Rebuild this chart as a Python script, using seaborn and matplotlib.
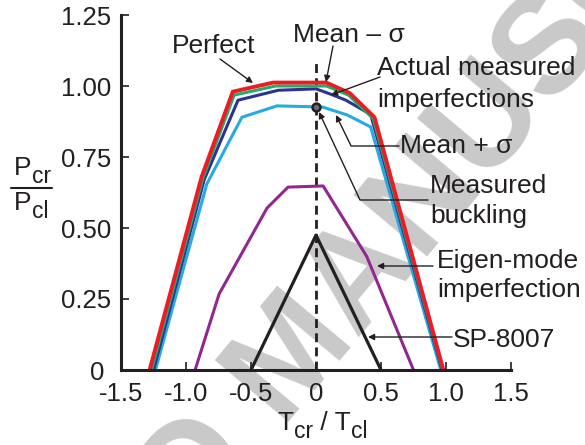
import matplotlib
matplotlib.use("Agg")
import matplotlib.pyplot as plt
import seaborn as sns
import pandas as pd
from matplotlib.lines import Line2D

sns.set_theme(style="ticks")
plt.rcParams['font.family'] = ['Liberation Sans', 'DejaVu Sans']

INK = '#231f20'

# ---- data ----
perfect_x = [-1.28, -0.88, -0.64, -0.33, 0.08, 0.26, 0.45, 0.98]
perfect_y = [0.0, 0.68, 0.98, 1.012, 1.012, 0.975, 0.89, 0.0]

mean_minus_x = [-1.265, -0.87, -0.63, -0.31, 0.08, 0.25, 0.44, 0.975]
mean_minus_y = [0.0, 0.675, 0.968, 1.0, 1.0, 0.968, 0.885, 0.0]

actual_x = [-1.25, -0.86, -0.60, -0.29, 0.0, 0.12, 0.23, 0.42, 0.97]
actual_y = [0.0, 0.67, 0.95, 0.985, 0.99, 0.97, 0.95, 0.90, 0.0]

mean_plus_x = [-1.235, -0.84, -0.57, -0.30, 0.05, 0.24, 0.42, 0.96]
mean_plus_y = [0.0, 0.655, 0.89, 0.93, 0.926, 0.898, 0.856, 0.0]

eigen_x = [-0.93, -0.745, -0.377, -0.215, 0.055, 0.39, 0.75]
eigen_y = [0.0, 0.268, 0.57, 0.644, 0.648, 0.40, 0.0]

sp8007_x = [-0.5, 0.0, 0.5]
sp8007_y = [0.0, 0.475, 0.0]

measured_x = [0.0]
measured_y = [0.926]

mean_line_x = [0.0, 0.0]
mean_line_y = [0.0, 1.09]

xticks = [-1.5, -1.0, -0.5, 0.0, 0.5, 1.0, 1.5]
xtick_labels = ['-1.5', '-1.0', '-0.5', '0', '0.5', '1.0', '1.5']
yticks = [0.0, 0.25, 0.5, 0.75, 1.0, 1.25]
ytick_labels = ['0 ', '0.25', '0.50', '0.75', '1.00', '1.25']

# ---- figure ----
fig = plt.figure(figsize=(5.85, 4.45), dpi=100)
ax = fig.add_axes([121/585, 1-370/445, 390/585, 355/445])
ax.patch.set_alpha(0)

curves = [
    (eigen_x, eigen_y, '#92278f', 2.2),
    (sp8007_x, sp8007_y, INK, 2.3),
    (mean_plus_x, mean_plus_y, '#27aae1', 2.2),
    (actual_x, actual_y, '#2e3192', 2.2),
    (mean_minus_x, mean_minus_y, '#1fae6a', 2.2),
    (perfect_x, perfect_y, '#ed1c24', 2.8),
]
for xs, ys, c, lw in curves:
    sns.lineplot(x=xs, y=ys, sort=False, estimator=None, color=c, lw=lw,
                 ax=ax, zorder=3)

sns.lineplot(x=mean_line_x, y=mean_line_y, sort=False, estimator=None,
             color=INK, lw=2.0, ax=ax, zorder=2, linestyle=(0, (3.2, 1.9)))

sns.scatterplot(x=measured_x, y=measured_y, s=32, color='#6d6e71',
                edgecolor=INK, linewidth=1.8, ax=ax, zorder=5)

ax.set_xlim(-1.5, 1.5)
ax.set_ylim(0, 1.25)
ax.set_xticks(xticks)
ax.set_xticklabels(xtick_labels)
ax.set_yticks(yticks)
ax.set_yticklabels(ytick_labels)
ax.tick_params(direction='in', length=6, width=1.2, labelsize=18.5, pad=7,
               colors=INK)
ax.tick_params(axis='x', pad=8.5)
sns.despine(ax=ax)
for s in ['left', 'bottom']:
    ax.spines[s].set_linewidth(2.2)
    ax.spines[s].set_color(INK)
    ax.spines[s].set_zorder(4)

# pixel helpers
def dx(px):
    return (px - 316) / 130.0

def dy(py):
    return (370 - py) / 284.0

FS = 19
def label(px, py, s):
    ax.text(dx(px), dy(py), s, fontsize=FS, ha='left', va='baseline',
            color=INK, clip_on=False)

label(172, 53, 'Perfect')
label(293, 42, 'Mean \u2013 \u03c3')
label(377, 75, 'Actual measured')
label(377, 107, 'imperfections')
label(400, 153, 'Mean + \u03c3')
label(430, 193, 'Measured')
label(430, 223, 'buckling')
label(437, 268, 'Eigen-mode')
label(437, 297, 'imperfection')
label(453, 347, 'SP-8007')

ap = dict(arrowstyle='-|>', color=INK, lw=1.0, mutation_scale=9,
          shrinkA=0, shrinkB=0)

def arrow(p0, p1, conn=None):
    props = dict(ap)
    if conn:
        props['connectionstyle'] = conn
    ax.annotate('', xy=(dx(p1[0]), dy(p1[1])), xytext=(dx(p0[0]), dy(p0[1])),
                arrowprops=props, annotation_clip=False)

arrow((220, 59), (253, 83))
arrow((333, 46), (326, 82))
arrow((380, 77), (331, 95))
arrow((399, 146), (336, 115), 'angle,angleA=0,angleB=-64,rad=0')
arrow((428, 200), (319, 112), 'angle,angleA=0,angleB=-65,rad=0')
arrow((433, 266), (377, 266))
arrow((452, 337), (368, 337))

# subscripted labels
def sub_label(px, py, parts):
    prev = ax.text(px / 585, 1 - py / 445, parts[0][0], fontsize=FS,
                   ha='left', va='baseline', color=INK,
                   transform=fig.transFigure)
    base_dy = 0
    for s, is_sub in parts[1:]:
        off = -6 if is_sub else 0
        prev_obj = prev
        prev = ax.annotate(s, xy=(1, 0), xycoords=prev_obj,
                           xytext=(0.5 if is_sub else 0, off - base_dy),
                           textcoords='offset points',
                           fontsize=16.5 if is_sub else FS, ha='left',
                           va='bottom', color=INK, annotation_clip=False)
        base_dy = off

sub_label(14, 175, [('P', False), ('cr', True)])
sub_label(14, 210, [('P', False), ('cl', True)])
fig.add_artist(Line2D([11/585, 52/585], [1-188/445, 1-188/445],
                      color=INK, lw=1.5, transform=fig.transFigure))
sub_label(277, 430, [('T', False), ('cr', True), (' / T', False), ('cl', True)])

# watermark
fig.text(0.505, 0.195, 'ACCEPTED MANUSCRIPT', rotation=50,
         rotation_mode='anchor', ha='center', va='center', fontsize=100,
         weight='bold', color='#c9c9c9', zorder=-1)

fig.savefig('out.png', dpi=100)
